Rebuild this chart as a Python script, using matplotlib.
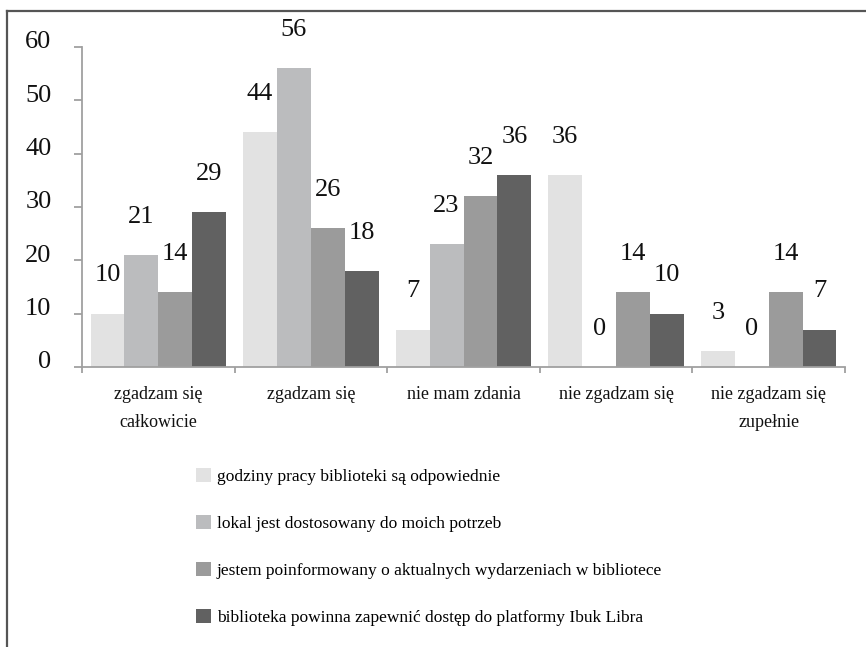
import matplotlib.pyplot as plt
import matplotlib.transforms as mtransforms
from matplotlib.lines import Line2D
import numpy as np

plt.rcParams['font.family'] = ['Liberation Serif', 'DejaVu Serif']

# Data
CATEGORIES = ["zgadzam się\ncałkowicie", "zgadzam się", "nie mam zdania",
              "nie zgadzam się", "nie zgadzam się\nzupełnie"]
SERIES = ["godziny pracy biblioteki są odpowiednie",
          "lokal jest dostosowany do moich potrzeb",
          "jestem poinformowany o aktualnych wydarzeniach w bibliotece",
          "biblioteka powinna zapewnić dostęp do platformy Ibuk Libra"]
VALUES = [
    [10, 44, 7, 36, 3],
    [21, 56, 23, 0, 0],
    [14, 26, 32, 14, 14],
    [29, 18, 36, 10, 7],
]
COLORS = ["#e2e2e2", "#bbbcbe", "#9b9b9b", "#616161"]
Y_TICKS = [0, 10, 20, 30, 40, 50, 60]

AXIS_GREY = "#a0a0a0"

fig = plt.figure(figsize=(8.66, 6.47), dpi=100)
ax = fig.add_axes([82 / 866, 1 - 367 / 647, 763 / 866, 320 / 647])

x = np.arange(len(CATEGORIES))
w = 0.222
handles = []
for i, (vals, col) in enumerate(zip(VALUES, COLORS)):
    b = ax.bar(x + (i - 1.5) * w, vals, width=w, color=col, label=SERIES[i], zorder=2)
    handles.append(b)
    for xi, v in zip(x + (i - 1.5) * w, vals):
        ax.annotate(str(v), (xi, v), xytext=(0, 27.5), textcoords="offset points",
                    ha="center", va="center", fontsize=19, color="#111111")

ax.set_xlim(-0.5, len(CATEGORIES) - 0.5)
ax.set_ylim(0, 60)

# spines
for s in ["top", "right"]:
    ax.spines[s].set_visible(False)
for s in ["left", "bottom"]:
    ax.spines[s].set_color(AXIS_GREY)
    ax.spines[s].set_linewidth(1.3)

# y ticks
ax.set_yticks(Y_TICKS)
ax.tick_params(axis="y", direction="out", length=6, width=1.3, color=AXIS_GREY,
               labelsize=19, pad=16, labelcolor="#111111")
off = mtransforms.ScaledTranslation(0, 7 / 100, fig.dpi_scale_trans)
for lab in ax.get_yticklabels():
    lab.set_transform(lab.get_transform() + off)

# x ticks: separators as major, labels on minor
ax.set_xticks(np.arange(-0.5, len(CATEGORIES) + 0.5, 1.0))
ax.set_xticklabels([])
ax.set_xticks(x, minor=True)
ax.set_xticklabels(CATEGORIES, minor=True, fontsize=13, linespacing=1.85, color="#111111")
ax.tick_params(axis="x", which="major", direction="out", length=4.5, width=1.3, color=AXIS_GREY)
ax.tick_params(axis="x", which="minor", length=0, pad=14)

# legend
fig.legend(handles=handles, labels=SERIES, loc="upper left",
           bbox_to_anchor=(196 / 866, 1 - 468 / 647), frameon=False,
           fontsize=12.5, handlelength=0.85, handleheight=0.85, handletextpad=0.35,
           labelspacing=1.74, borderpad=0, borderaxespad=0)

# outer frame (left and top edges only visible)
fig.add_artist(Line2D([7 / 866, 7 / 866], [0, 1 - 11 / 647], transform=fig.transFigure,
                      color="#555555", linewidth=1.6))
fig.add_artist(Line2D([7 / 866, 1], [1 - 11 / 647, 1 - 11 / 647], transform=fig.transFigure,
                      color="#555555", linewidth=1.6))

fig.savefig("out.png", dpi=100)
